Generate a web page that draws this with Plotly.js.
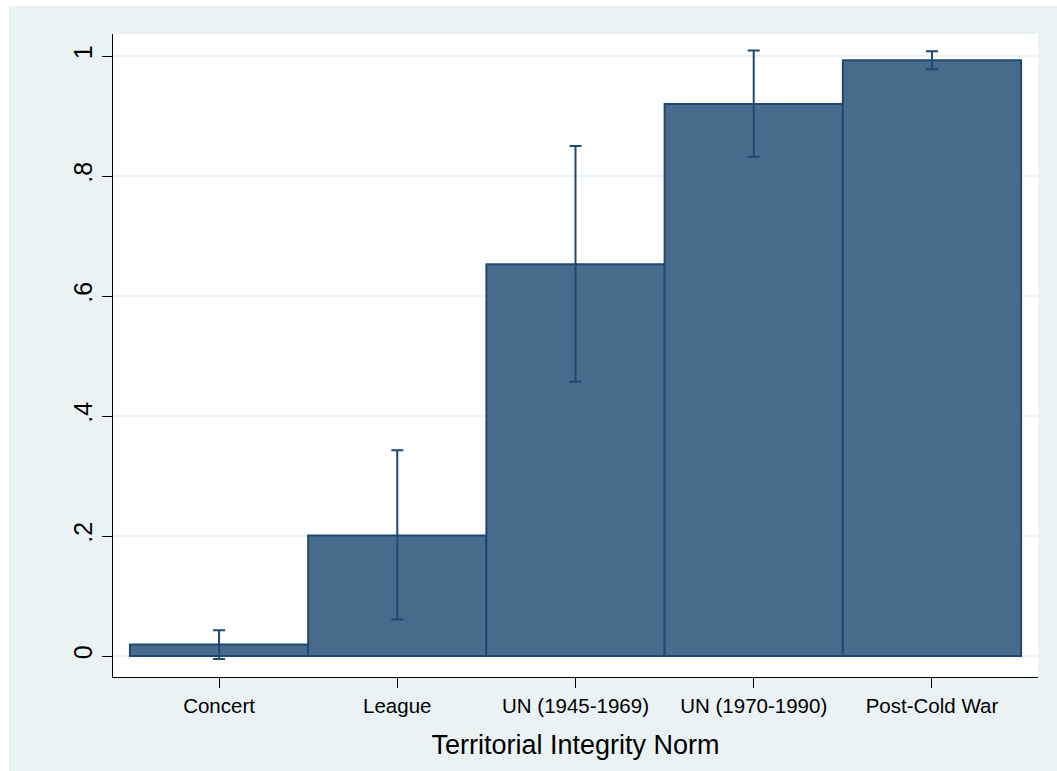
<!DOCTYPE html>
<html>
<head>
<meta charset="utf-8">
<script src="https://cdn.plot.ly/plotly-3.0.1.min.js"></script>
<style>html,body{margin:0;padding:0;background:#EAF2F3;overflow:hidden;}#chart{width:1057px;height:771px;}</style>
</head>
<body>
<div id="chart"></div>
<script>
var categories = ['Concert', 'League', 'UN (1945-1969)', 'UN (1970-1990)', 'Post-Cold War'];
var means = [0.019, 0.201, 0.653, 0.920, 0.993];
var ciUpper = [0.043, 0.343, 0.850, 1.009, 1.008];
var ciLower = [-0.005, 0.061, 0.457, 0.832, 0.978];
var yTickVals = [0, 0.2, 0.4, 0.6, 0.8, 1];
var yTickText = ['0', '.2', '.4', '.6', '.8', '1'];
var xTitle = 'Territorial Integrity Norm';

var errPlus = means.map(function (m, i) { return ciUpper[i] - m; });
var errMinus = means.map(function (m, i) { return m - ciLower[i]; });

var bgCol = '#EAF2F3';
var barFill = '#486A8B';
var barLine = '#1C4A75';
var fontFam = 'Liberation Sans, Arial, Helvetica, sans-serif';

var trace = {
  type: 'bar',
  x: [0, 1, 2, 3, 4],
  y: means,
  width: 1,
  marker: { color: barFill, line: { color: barLine, width: 2 } },
  error_y: {
    type: 'data', symmetric: false, array: errPlus, arrayminus: errMinus,
    color: barLine, thickness: 2, width: 6
  },
  hoverinfo: 'skip'
};

var layout = {
  width: 1057, height: 771,
  margin: { l: 113, r: 19, t: 34, b: 94, pad: 0 },
  paper_bgcolor: bgCol,
  plot_bgcolor: '#FFFFFF',
  bargap: 0,
  showlegend: false,
  font: { family: fontFam, color: '#000' },
  xaxis: {
    range: [-0.595, 4.595],
    tickmode: 'array', tickvals: [0, 1, 2, 3, 4], ticktext: categories,
    ticks: 'outside', ticklen: 10, tickwidth: 1, tickcolor: '#000',
    tickfont: { size: 20.5, family: fontFam, color: '#000' },
    showline: true, linecolor: '#000', linewidth: 1,
    showgrid: false, zeroline: false,
    title: { text: xTitle, font: { size: 27, family: fontFam, color: '#000' }, standoff: 19 }
  },
  yaxis: {
    range: [-0.035, 1.0367],
    tickmode: 'array', tickvals: yTickVals, ticktext: yTickText,
    tickangle: -90,
    ticks: 'outside', ticklen: 10, tickwidth: 1, tickcolor: '#000',
    tickfont: { size: 25, family: fontFam, color: '#000' },
    showline: true, linecolor: '#000', linewidth: 1,
    showgrid: true, gridcolor: bgCol, gridwidth: 2,
    zeroline: false
  },
  shapes: [
    { type: 'rect', xref: 'paper', yref: 'paper', x0: -0.2, x1: -0.1124, y0: -0.2, y1: 1.2,
      fillcolor: '#FFFFFF', line: { width: 0 }, layer: 'below' },
    { type: 'rect', xref: 'paper', yref: 'paper', x0: -0.2, x1: 1.1, y0: 1.0435, y1: 1.2,
      fillcolor: '#FFFFFF', line: { width: 0 }, layer: 'below' }
  ]
};

Plotly.newPlot('chart', [trace], layout, { displayModeBar: false, staticPlot: true });
</script>
</body>
</html>
